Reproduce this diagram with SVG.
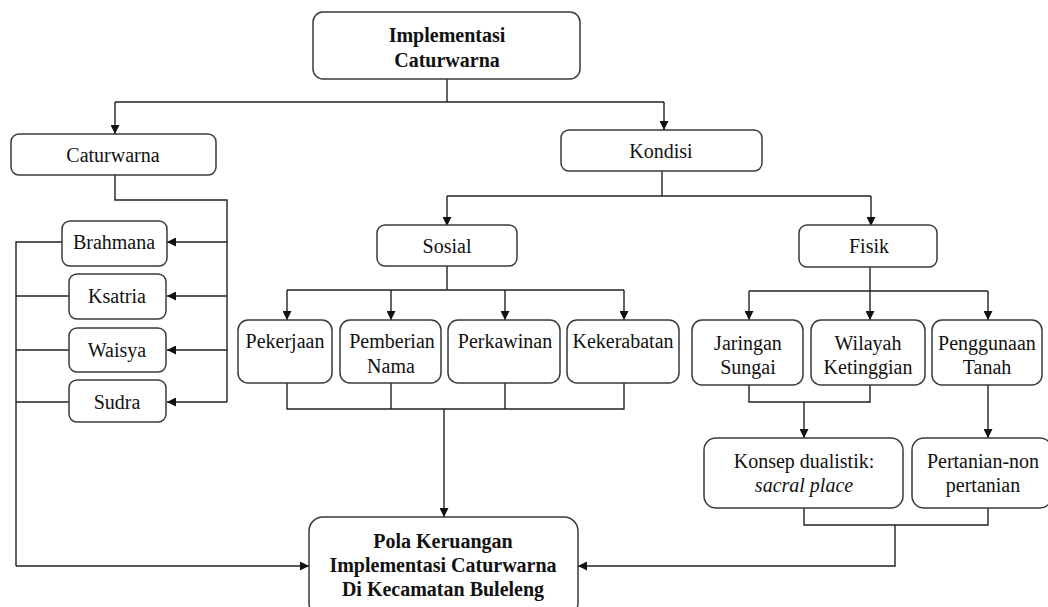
<svg xmlns="http://www.w3.org/2000/svg" width="1048" height="607" viewBox="0 0 1048 607">
<defs>
<style>
.box{fill:#fff;stroke:#3a3a3a;stroke-width:1.5}
.t{font-family:"Liberation Serif","Times New Roman",serif;font-size:20px;fill:#111;text-anchor:middle}
.b{font-weight:bold}
.i{font-style:italic}
.ln{fill:none;stroke:#222;stroke-width:1.4}
</style>
<marker id="ar" viewBox="0 0 10 10" refX="10" refY="5" markerWidth="9" markerHeight="9" markerUnits="userSpaceOnUse" orient="auto">
<path d="M0,0 L10,5 L0,10 z" fill="#111"/>
</marker>
</defs>
<rect width="1048" height="607" fill="#fff"/>

<g id="connectors">
<path class="ln" d="M447,79 V102"/>
<path class="ln" d="M115,102 H664"/>
<path class="ln" d="M115,102 V134" marker-end="url(#ar)"/>
<path class="ln" d="M664,102 V130" marker-end="url(#ar)"/>
<path class="ln" d="M115,175 V200 H227 V402"/>
<path class="ln" d="M227,242 H167" marker-end="url(#ar)"/>
<path class="ln" d="M227,296 H167" marker-end="url(#ar)"/>
<path class="ln" d="M227,350 H167" marker-end="url(#ar)"/>
<path class="ln" d="M227,402 H167" marker-end="url(#ar)"/>
<path class="ln" d="M62,242 H16 V566"/>
<path class="ln" d="M69,296 H16"/>
<path class="ln" d="M69,350 H16"/>
<path class="ln" d="M69,402 H16"/>
<path class="ln" d="M16,566 H309" marker-end="url(#ar)"/>
<path class="ln" d="M662,171 V196"/>
<path class="ln" d="M447,196 H871"/>
<path class="ln" d="M447,196 V226" marker-end="url(#ar)"/>
<path class="ln" d="M871,196 V226" marker-end="url(#ar)"/>
<path class="ln" d="M447,266 V290"/>
<path class="ln" d="M287,290 H624"/>
<path class="ln" d="M287,290 V320" marker-end="url(#ar)"/>
<path class="ln" d="M391,290 V320" marker-end="url(#ar)"/>
<path class="ln" d="M505,290 V320" marker-end="url(#ar)"/>
<path class="ln" d="M624,290 V320" marker-end="url(#ar)"/>
<path class="ln" d="M287,383 V409 H624 V383"/>
<path class="ln" d="M391,383 V409"/>
<path class="ln" d="M505,383 V409"/>
<path class="ln" d="M444,409 V517" marker-end="url(#ar)"/>
<path class="ln" d="M870,267 V291"/>
<path class="ln" d="M749,291 H988"/>
<path class="ln" d="M749,291 V320" marker-end="url(#ar)"/>
<path class="ln" d="M870,291 V320" marker-end="url(#ar)"/>
<path class="ln" d="M988,291 V320" marker-end="url(#ar)"/>
<path class="ln" d="M749,385 V402 H870 V385"/>
<path class="ln" d="M804,402 V438" marker-end="url(#ar)"/>
<path class="ln" d="M988,385 V438" marker-end="url(#ar)"/>
<path class="ln" d="M804,508 V525 H988 V508"/>
<path class="ln" d="M895,525 V566 H578" marker-end="url(#ar)"/>
</g>

<g id="implementasi">
<rect class="box" x="313" y="12" width="267" height="67" rx="10"/>
<text class="t b" x="447" y="42">Implementasi</text>
<text class="t b" x="447" y="67">Caturwarna</text>
</g>
<g id="caturwarna">
<rect class="box" x="11" y="134" width="205" height="41" rx="8"/>
<text class="t" x="113" y="162">Caturwarna</text>
</g>
<g id="kondisi">
<rect class="box" x="561" y="130" width="201" height="41" rx="8"/>
<text class="t" x="661" y="158">Kondisi</text>
</g>
<g id="brahmana">
<rect class="box" x="62" y="221" width="105" height="45" rx="8"/>
<text class="t" x="114" y="249">Brahmana</text>
</g>
<g id="ksatria">
<rect class="box" x="69" y="274" width="97" height="45" rx="8"/>
<text class="t" x="117" y="303">Ksatria</text>
</g>
<g id="waisya">
<rect class="box" x="69" y="328" width="97" height="44" rx="8"/>
<text class="t" x="117" y="357">Waisya</text>
</g>
<g id="sudra">
<rect class="box" x="69" y="380" width="97" height="42" rx="8"/>
<text class="t" x="117" y="409">Sudra</text>
</g>
<g id="sosial">
<rect class="box" x="377" y="225" width="140" height="41" rx="8"/>
<text class="t" x="447" y="253">Sosial</text>
</g>
<g id="fisik">
<rect class="box" x="799" y="225" width="138" height="42" rx="8"/>
<text class="t" x="869" y="253">Fisik</text>
</g>
<g id="pekerjaan">
<rect class="box" x="238" y="320" width="94" height="63" rx="10"/>
<text class="t" x="285" y="348">Pekerjaan</text>
</g>
<g id="pemberian">
<rect class="box" x="340" y="320" width="101" height="63" rx="10"/>
<text class="t" x="392" y="348">Pemberian</text>
<text class="t" x="391" y="373">Nama</text>
</g>
<g id="perkawinan">
<rect class="box" x="448" y="320" width="112" height="63" rx="10"/>
<text class="t" x="505" y="348">Perkawinan</text>
</g>
<g id="kekerabatan">
<rect class="box" x="567" y="320" width="112" height="63" rx="10"/>
<text class="t" x="623" y="348">Kekerabatan</text>
</g>
<g id="jaringan">
<rect class="box" x="692" y="320" width="111" height="65" rx="10"/>
<text class="t" x="748" y="350">Jaringan</text>
<text class="t" x="748" y="374">Sungai</text>
</g>
<g id="wilayah">
<rect class="box" x="811" y="320" width="114" height="65" rx="10"/>
<text class="t" x="868" y="350">Wilayah</text>
<text class="t" x="868" y="374">Ketinggian</text>
</g>
<g id="penggunaan">
<rect class="box" x="932" y="320" width="110" height="65" rx="10"/>
<text class="t" x="987" y="350">Penggunaan</text>
<text class="t" x="987" y="374">Tanah</text>
</g>
<g id="konsep">
<rect class="box" x="704" y="438" width="199" height="70" rx="12"/>
<text class="t" x="804" y="468">Konsep dualistik:</text>
<text class="t i" x="804" y="492">sacral place</text>
</g>
<g id="pertanian">
<rect class="box" x="912" y="438" width="140" height="70" rx="12"/>
<text class="t" x="983" y="468">Pertanian-non</text>
<text class="t" x="983" y="492">pertanian</text>
</g>
<g id="pola">
<rect class="box" x="309" y="517" width="269" height="100" rx="14"/>
<text class="t b" x="443" y="548">Pola Keruangan</text>
<text class="t b" x="443" y="572">Implementasi  Caturwarna</text>
<text class="t b" x="443" y="596">Di Kecamatan  Buleleng</text>
</g>
</svg>
